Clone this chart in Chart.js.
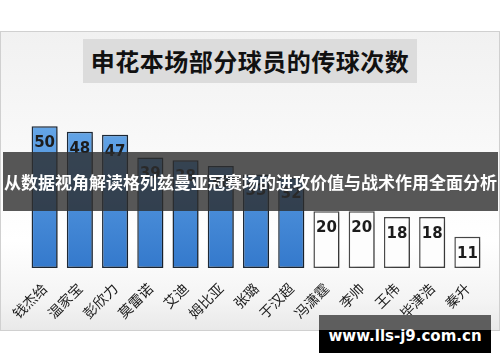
<!DOCTYPE html>
<html>
<head>
<meta charset="utf-8">
<script src="https://cdn.jsdelivr.net/npm/chart.js@4"></script>
<style>
  html, body { margin: 0; padding: 0; background: #fff; }
  body { width: 500px; height: 362px; position: relative; overflow: hidden; font-family: "Noto Sans CJK SC", sans-serif; }
  .frame {
    position: absolute; left: 0; top: 31px; width: 498px; height: 298px;
    border: 1px solid #d0d0d0;
    background: linear-gradient(to bottom, #f1f1f1 0%, #f8f8f8 35%, #ffffff 70%, #f4f4f4 90%, #e9e9e9 100%);
  }
  .title {
    position: absolute; left: 83px; top: 39px; width: 334px; height: 44px;
    background: #dcdcdc; color: #111; font-weight: bold; font-size: 24px;
    line-height: 44px; text-align: center; letter-spacing: 0.5px;
  }
  #wrap { position: absolute; left: 0; top: 0; width: 500px; height: 362px; }
  .banner {
    position: absolute; left: 3px; top: 152px; width: 495px; height: 59px;
    background: rgba(45, 45, 45, 0.8); color: #fff; font-weight: bold;
    font-size: 17px; line-height: 59px; text-align: center; white-space: nowrap;
  }
  .mark-top { position: absolute; left: 319px; top: 315px; width: 172px; height: 15px; background: #5e5e5e; }
  .mark {
    position: absolute; left: 319px; top: 330px; width: 172px; height: 23px; background: #000;
  }
  .mark-text {
    position: absolute; left: 319px; top: 322px; width: 172px; text-align: center;
    color: #fff; font-family: "DejaVu Sans", sans-serif; font-weight: bold; font-size: 15px; line-height: 28px;
  }
</style>
</head>
<body>
<div class="frame"></div>
<div class="title">申花本场部分球员的传球次数</div>
<div id="wrap"><canvas id="passChart" width="500" height="362"></canvas></div>
<div class="banner">从数据视角解读格列兹曼亚冠赛场的进攻价值与战术作用全面分析</div>
<div class="mark-top"></div>
<div class="mark"></div>
<div class="mark-text">www.lls-j9.com.cn</div>

<script>
// players and pass counts (first 8 highlighted in blue)
const players = ['钱杰给', '温家宝', '彭欣力', '莫雷诺', '艾迪', '姆比亚', '张璐', '于汉超', '冯潇霆', '李帅', '王伟', '毕津浩', '秦升'];
const passes = [50, 48, 47, 39, 38, 36, 33, 32, 20, 20, 18, 18, 11];
const highlighted = 8;

function barFill(context) {
    const i = context.dataIndex;
    if (i >= highlighted) return '#fdfdfd';
    const area = context.chart.chartArea;
    if (!area) return '#4a8fdb';
    const g = context.chart.ctx.createLinearGradient(0, area.top, 0, area.bottom);
    g.addColorStop(0, '#69aaea');
    g.addColorStop(1, '#3479cc');
    return g;
}

// soft shadow behind the bars
const barShadow = {
    id: 'barShadow',
    beforeDatasetsDraw(chart) {
        const ctx = chart.ctx;
        ctx.save();
        ctx.shadowColor = 'rgba(0,0,0,0.28)';
        ctx.shadowBlur = 7;
        ctx.shadowOffsetX = 5;
        ctx.shadowOffsetY = 2;
    },
    afterDatasetsDraw(chart) {
        chart.ctx.restore();
    }
};

// value written inside the top of each bar
const valueLabels = {
    id: 'valueLabels',
    afterDatasetsDraw(chart) {
        const ctx = chart.ctx;
        const meta = chart.getDatasetMeta(0);
        ctx.save();
        ctx.font = 'bold 15px "DejaVu Sans", sans-serif';
        ctx.fillStyle = '#1c1c1c';
        ctx.textAlign = 'center';
        ctx.textBaseline = 'middle';
        meta.data.forEach((bar, i) => {
            ctx.fillText(String(passes[i]), bar.x, bar.y + 17);
        });
        ctx.restore();
    }
};

new Chart(document.getElementById('passChart'), {
    type: 'bar',
    data: {
        labels: players,
        datasets: [{
            data: passes,
            backgroundColor: barFill,
            borderColor: (c) => c.dataIndex < highlighted ? '#1e2a38' : '#4a4a4a',
            borderWidth: 1.5,
            borderSkipped: false,
            barPercentage: 0.74,
            categoryPercentage: 1
        }]
    },
    options: {
        responsive: false,
        animation: false,
        events: [],
        layout: { padding: { left: 27, right: 15, top: 112, bottom: 0 } },
        plugins: {
            legend: { display: false },
            tooltip: { enabled: false }
        },
        scales: {
            y: { display: false, min: 0, max: 55 },
            x: {
                grid: { display: false },
                border: { display: false },
                afterFit(scale) { scale.height = 94; },
                ticks: {
                    minRotation: 45,
                    maxRotation: 45,
                    padding: 4,
                    color: '#1a1a1a',
                    font: { family: '"Noto Sans CJK SC"', size: 14 }
                }
            }
        }
    },
    plugins: [barShadow, valueLabels]
});
</script>
</body>
</html>
